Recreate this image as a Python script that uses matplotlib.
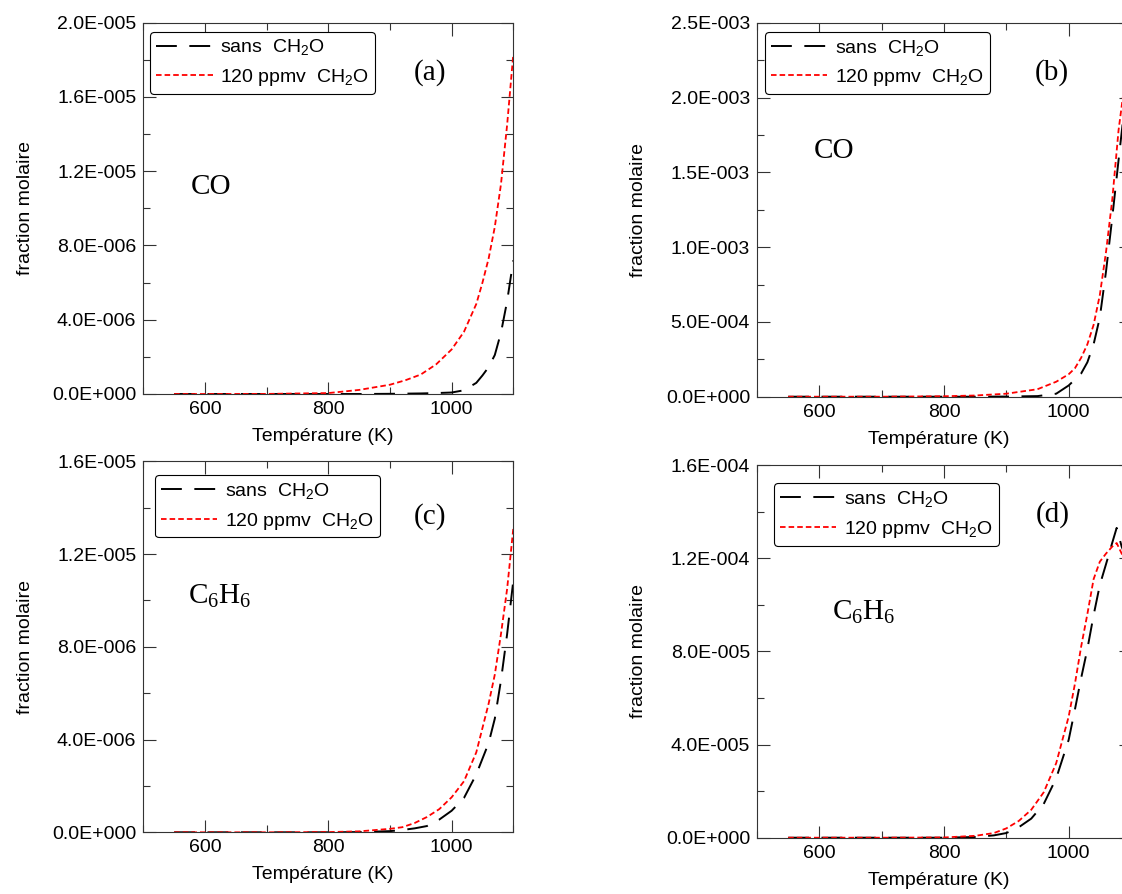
import numpy as np
import matplotlib
matplotlib.use('Agg')
import matplotlib.pyplot as plt
from matplotlib.ticker import FuncFormatter, MultipleLocator

plt.rcParams['font.family'] = ['Liberation Sans', 'DejaVu Sans']
plt.rcParams['mathtext.default'] = 'regular'
plt.rcParams['lines.scale_dashes'] = False

# temperatures (K) and mole fractions
temp_a = [550, 600, 700, 800, 850, 900, 925, 950, 975, 1000, 1020, 1040, 1050, 1060, 1070, 1080, 1090, 1100]
co_sans_a = [0, 0, 0, 0, 0, 0.01, 0.02, 0.03, 0.05, 0.08, 0.2, 0.6, 1.0, 1.45, 2.1, 3.3, 5.0, 7.2]           # x1e-6
co_120_a = [0, 0, 0.005, 0.05, 0.22, 0.5, 0.74, 1.05, 1.6, 2.4, 3.35, 4.85, 6.0, 7.3, 9.0, 11.3, 14.5, 18.3]  # x1e-6

temp_b = [550, 600, 700, 800, 850, 900, 950, 980, 1000, 1010, 1020, 1030, 1040, 1050, 1060, 1070, 1080, 1090, 1100]
co_sans_b = [0, 0, 0, 0, 0, 0.001, 0.004, 0.02, 0.075, 0.115, 0.155, 0.23, 0.35, 0.53, 0.84, 1.2, 1.58, 1.95, 2.3]   # x1e-3
co_120_b = [0, 0, 0, 0.003, 0.008, 0.02, 0.05, 0.1, 0.15, 0.19, 0.26, 0.35, 0.48, 0.68, 0.97, 1.32, 1.78, 2.1, 2.5]  # x1e-3

temp_c = [550, 600, 700, 800, 850, 900, 920, 940, 960, 980, 1000, 1020, 1040, 1060, 1070, 1080, 1090, 1100]
c6h6_sans_c = [0, 0, 0, 0, 0.01, 0.05, 0.1, 0.17, 0.27, 0.55, 0.93, 1.48, 2.5, 3.85, 4.9, 6.55, 8.55, 10.85]   # x1e-6
c6h6_120_c = [0, 0, 0, 0.01, 0.04, 0.15, 0.22, 0.4, 0.66, 1.0, 1.51, 2.2, 3.45, 5.55, 6.8, 8.55, 10.5, 13.1]    # x1e-6

temp_d = [550, 600, 700, 800, 850, 880, 900, 920, 940, 960, 980, 1000, 1010, 1020, 1030, 1040, 1050, 1060, 1070, 1077, 1085, 1100]
c6h6_sans_d = [0, 0, 0, 0, 0.03, 0.1, 0.2, 0.45, 0.82, 1.45, 2.55, 4.2, 5.5, 6.85, 8.1, 9.55, 10.85, 11.75, 12.67, 13.3, 12.5, 11.5]   # x1e-5
c6h6_120_d = [0, 0, 0, 0.01, 0.08, 0.2, 0.4, 0.72, 1.2, 1.95, 3.2, 5.2, 6.6, 8.2, 9.6, 11.1, 11.85, 12.2, 12.5, 12.65, 12.2, 11.0]   # x1e-5

labels = ['sans  CH$_2$O', '120 ppmv  CH$_2$O']


def sci_fmt(v, pos):
    s = f"{v:.1E}"
    mant, e = s.split('E')
    return f"{mant}E{int(e):+04d}"


def panel(rect, temp, sans, ppm, scale, ymax, ystep, tag, tag_pos, species, sp_pos, leg_pos):
    ax = fig.add_axes(rect)
    ax.plot(temp, np.array(sans) * scale, color='black', lw=1.4, dashes=(15, 9), label=labels[0])
    ax.plot(temp, np.array(ppm) * scale, color='red', lw=1.3, dashes=(4, 2.2), label=labels[1])
    ax.set_xlim(500, 1100)
    ax.set_ylim(0, ymax)
    ax.xaxis.set_major_locator(MultipleLocator(200))
    ax.xaxis.set_minor_locator(MultipleLocator(100))
    ax.yaxis.set_major_locator(MultipleLocator(ystep))
    ax.yaxis.set_minor_locator(MultipleLocator(ystep / 2))
    ax.yaxis.set_major_formatter(FuncFormatter(sci_fmt))
    ax.tick_params(which='both', direction='in', top=True, right=True, color='#333333', width=0.8,
                   labelsize=14, pad=5)
    ax.tick_params(which='major', length=9)
    ax.tick_params(which='minor', length=5)
    for sp in ax.spines.values():
        sp.set_color('#333333')
        sp.set_linewidth(0.8)
    ax.set_xlabel('Température (K)', fontsize=14)
    ax.set_ylabel('fraction molaire', fontsize=14)
    ax.xaxis.set_label_coords(0.485, -0.092)
    ax.yaxis.set_label_coords(-0.295, 0.5)
    ax.text(tag_pos[0], tag_pos[1], tag, transform=ax.transAxes, fontsize=21,
            family='Liberation Serif', ha='center', va='baseline')
    ax.text(sp_pos[0], sp_pos[1], species, transform=ax.transAxes, fontsize=21,
            family='Liberation Serif', ha='center', va='baseline')
    leg = ax.legend(loc='upper left', bbox_to_anchor=leg_pos, borderaxespad=0, fontsize=14,
                    handlelength=2.9, handletextpad=0.4, borderpad=0.3, labelspacing=0.5,
                    fancybox=True, framealpha=1, edgecolor='black')
    leg.get_frame().set_linewidth(0.8)
    return ax


fig = plt.figure(figsize=(11.22, 8.94), dpi=100)

panel([143.3 / 1122, (894 - 394) / 894, 370 / 1122, 371.3 / 894], temp_a, co_sans_a, co_120_a, 1e-6,
      2.0e-5, 4e-6, '(a)', (0.776, 0.847), 'CO', (0.183, 0.539), (0.019, 0.976))
panel([757 / 1122, (894 - 396.7) / 894, 374 / 1122, 374 / 894], temp_b, co_sans_b, co_120_b, 1e-3,
      2.5e-3, 5e-4, '(b)', (0.788, 0.848), 'CO', (0.205, 0.637), (0.022, 0.976))
panel([143.3 / 1122, (894 - 832.3) / 894, 370 / 1122, 371 / 894], temp_c, c6h6_sans_c, c6h6_120_c, 1e-6,
      1.6e-5, 4e-6, '(c)', (0.776, 0.833), 'C$_6$H$_6$', (0.207, 0.615), (0.031, 0.963))
panel([757 / 1122, (894 - 837.7) / 894, 374 / 1122, 372.7 / 894], temp_d, c6h6_sans_d, c6h6_120_d, 1e-5,
      1.6e-4, 4e-5, '(d)', (0.791, 0.848), 'C$_6$H$_6$', (0.285, 0.584), (0.045, 0.951))

fig.savefig('out.png', dpi=100)
